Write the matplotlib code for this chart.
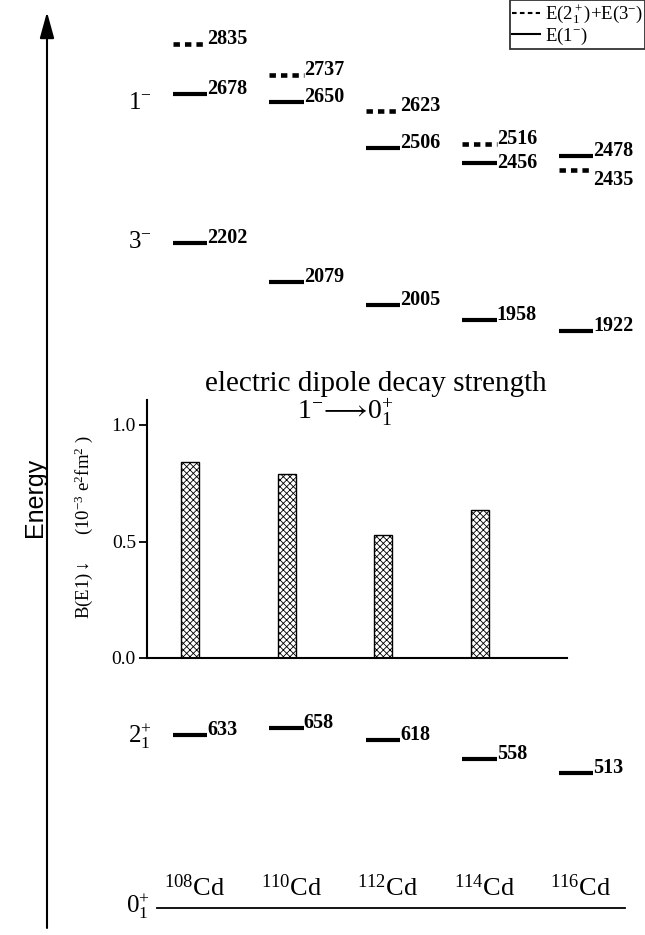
import matplotlib
matplotlib.use('Agg')
import matplotlib.pyplot as plt
from matplotlib.lines import Line2D

# ---------------- data ----------------
nuclei = ['108', '110', '112', '114', '116']
e_2plus = [633, 658, 618, 558, 513]          # 2_1^+ energies (keV)
e_3minus = [2202, 2079, 2005, 1958, 1922]     # 3^- energies
e_1minus = [2678, 2650, 2506, 2456, 2478]     # 1^- energies
e_sum = [2835, 2737, 2623, 2516, 2435]        # E(2_1^+)+E(3^-)
be1_nuclei = ['108', '110', '112', '114']
be1 = [0.84, 0.79, 0.53, 0.635]               # B(E1) in 1e-3 e^2 fm^2
be1_ticks = [0.0, 0.5, 1.0]

plt.rcParams.update({
    'font.family': ['Liberation Serif', 'DejaVu Serif'],
    'mathtext.fontset': 'custom',
    'mathtext.rm': 'Liberation Serif',
    'mathtext.it': 'Liberation Serif:italic',
    'mathtext.bf': 'Liberation Serif:bold',
    'hatch.linewidth': 0.6,
})

W, H = 645, 935
fig = plt.figure(figsize=(W / 100, H / 100), dpi=100)
ax = fig.add_axes([0, 0, 1, 1])
ax.axis('off')

PX0, DX = 190, 96.5            # pixel of first nucleus, pixel spacing
E_REF, Y_REF, E_SCALE = 2202, 243, 0.3138
ax.set_xlim(-PX0 / DX, (W - PX0) / DX)
ax.set_ylim(E_REF - (H - Y_REF) / E_SCALE, E_REF + Y_REF / E_SCALE)

xs = list(range(len(nuclei)))
hw = 0.18
dotted = (0, (1.4, 1.1))

def levels(vals, style, vas):
    for x, e, va in zip(xs, vals, vas):
        ax.hlines(e, x - hw, x + hw, colors='k', lw=3.0 if style == '-' else 3.3,
                  linestyles=style, capstyle='butt')
        ax.text(x + hw, e, str(e), ha='left', va=va, fontsize=14.5,
                fontweight='bold')

levels(e_2plus, '-', ['baseline'] * 5)
levels(e_3minus, '-', ['baseline'] * 5)
levels(e_1minus, '-', ['baseline', 'baseline', 'baseline', 'center', 'baseline'])
levels(e_sum, dotted, ['baseline', 'baseline', 'baseline', 'baseline', 'top'])

# spin labels
def ft(xp, yp, s, **kw):
    fig.text(xp / W, 1 - yp / H, s, **kw)

ft(152, 103, r'$1^{-}$', ha='right', va='center', fontsize=18)
ft(152, 242, r'$3^{-}$', ha='right', va='center', fontsize=18)
ft(152, 736, r'$2_1^{+}$', ha='right', va='center', fontsize=18)
ft(150, 906, r'$0_1^{+}$', ha='right', va='center', fontsize=18)

# nucleus labels
for x, n in zip(xs, nuclei):
    ax.text(x + 0.05, 1 - 896 / H, r'$^{%s}$Cd' % n,
            transform=ax.get_xaxis_transform(),
            ha='center', va='baseline', fontsize=19)

# ground line
ax.plot([(157 - PX0) / DX, (625 - PX0) / DX], [1 - 908 / H] * 2, color='k', lw=1.3,
        transform=ax.get_xaxis_transform())

# energy arrow
ax.annotate('', xy=(47 / W, 1 - 12 / H), xytext=(47 / W, 1 - 928 / H),
            xycoords='axes fraction', textcoords='axes fraction',
            arrowprops=dict(arrowstyle='-|>,head_length=0.8,head_width=0.22',
                            mutation_scale=20, lw=1.5, color='k',
                            shrinkA=0, shrinkB=0))
ft(35, 497, 'Energy', rotation=90, ha='center', va='center', fontsize=18,
   family='Liberation Sans')

# legend
handles = [Line2D([], [], color='k', ls=(0, (2.2, 1.6)), lw=1.5),
           Line2D([], [], color='k', ls='-', lw=1.5)]
leg = ax.legend(handles, [r'E($2_1^+$)+E($3^{-}$)', r'E($1^{-}$)'],
                loc='upper right', bbox_to_anchor=(1.0, 1.0), fontsize=13.5,
                frameon=True, fancybox=False, handlelength=1.5, handletextpad=0.25,
                borderpad=0.12, labelspacing=0.0, borderaxespad=0)
leg.get_frame().set_edgecolor('k')
leg.get_frame().set_linewidth(1.3)

# ---------------- inset bar chart ----------------
bx0, bx1, by0, by1 = 147, 567, 658, 400
axb = fig.add_axes([bx0 / W, 1 - by0 / H, (bx1 - bx0) / W, (by0 - by1) / H])
axb.patch.set_alpha(0)
axb.set_xlim((bx0 - PX0) / DX, (bx1 - PX0) / DX)
axb.set_ylim(0, (by0 - by1) / 233.0)
bx = [nuclei.index(n) for n in be1_nuclei]
axb.bar(bx, be1, width=18 / DX, color='white', edgecolor='k', hatch='xxxxx', lw=1.0)
for s in ['top', 'right']:
    axb.spines[s].set_visible(False)
axb.spines['left'].set_linewidth(1.5)
axb.spines['bottom'].set_linewidth(1.5)
axb.set_xticks([])
axb.set_yticks(be1_ticks)
axb.set_yticklabels(['%.1f' % t for t in be1_ticks], fontsize=14)
axb.tick_params(axis='y', length=6, width=1.3, pad=2)

ft(376, 384, 'electric dipole decay strength', ha='center', va='center', fontsize=21)
ft(297, 412, r'$1^{-}\!\longrightarrow\!0_1^{+}$', ha='left', va='center', fontsize=20)
ft(84, 527, r'B(E1)$\downarrow$     (10$^{-3}$ e$^{2}$fm$^{2}$ )', rotation=90,
   ha='center', va='center', fontsize=13.5)

fig.savefig('out.png', dpi=100)
